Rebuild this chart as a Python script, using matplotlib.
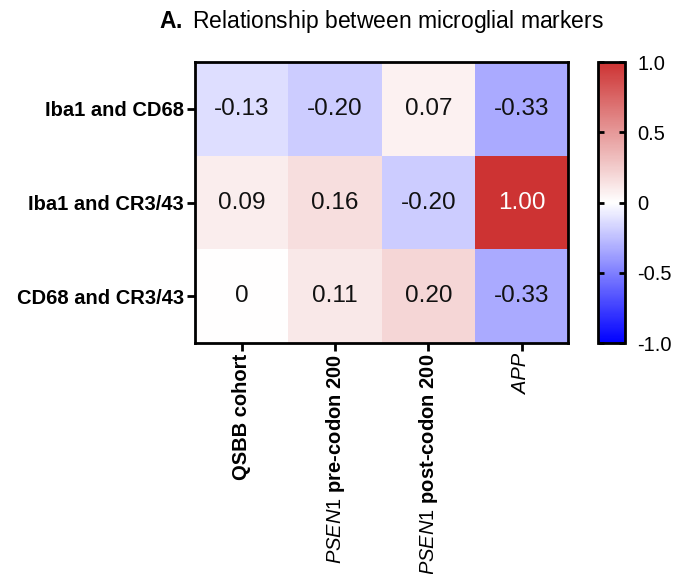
import numpy as np
import matplotlib

matplotlib.use("Agg")
import matplotlib.pyplot as plt  # noqa: E402
from matplotlib.colors import LinearSegmentedColormap  # noqa: E402

plt.rcParams["font.family"] = ["Liberation Sans", "DejaVu Sans"]
plt.rcParams["mathtext.fontset"] = "custom"
plt.rcParams["mathtext.it"] = "Liberation Sans:italic"
plt.rcParams["mathtext.rm"] = "Liberation Sans"
plt.rcParams["mathtext.bf"] = "Liberation Sans:bold"

ROW_LABELS = ["Iba1 and CD68", "Iba1 and CR3/43", "CD68 and CR3/43"]
COL_LABELS = ["QSBB cohort", r"$\mathit{PSEN1}$ pre-codon 200",
              r"$\mathit{PSEN1}$ post-codon 200", "APP"]
CORR = [
    [-0.13, -0.20, 0.07, -0.33],
    [0.09, 0.16, -0.20, 1.00],
    [0.00, 0.11, 0.20, -0.33],
]
CELL_TEXT = [
    ["-0.13", "-0.20", "0.07", "-0.33"],
    ["0.09", "0.16", "-0.20", "1.00"],
    ["0", "0.11", "0.20", "-0.33"],
]
CBAR_TICKS = [-1.0, -0.5, 0.0, 0.5, 1.0]
CBAR_LABELS = ["-1.0", "-0.5", "0", "0.5", "1.0"]

cmap = LinearSegmentedColormap.from_list(
    "bwr_soft", ["#0000ff", "#ffffff", "#cd3333"])

fig = plt.figure(figsize=(6.75, 5.74), dpi=100)
ax = fig.add_axes([0.289, 0.4024, 0.553, 0.4895])
cax = fig.add_axes([0.886, 0.4024, 0.040, 0.4895])

data = np.array(CORR)
mesh = ax.pcolormesh(data, cmap=cmap, vmin=-1, vmax=1)
ax.set_xlim(0, data.shape[1])
ax.set_ylim(data.shape[0], 0)

for i in range(data.shape[0]):
    for j in range(data.shape[1]):
        colour = "white" if data[i, j] > 0.7 else "#111111"
        ax.text(j + 0.5, i + 0.5, CELL_TEXT[i][j], ha="center", va="center",
                fontsize=17.5, color=colour)

ax.set_xticks(np.arange(data.shape[1]) + 0.5)
ax.set_yticks(np.arange(data.shape[0]) + 0.5)
ax.set_yticklabels(ROW_LABELS, fontsize=14.5, fontweight="bold")
xlabels = ax.set_xticklabels(COL_LABELS, rotation=90, fontsize=14.5,
                             fontweight="bold")
xlabels[-1].set_fontweight("normal")
xlabels[-1].set_fontstyle("italic")
ax.tick_params(axis="both", length=6, width=2, pad=2)
for sp in ax.spines.values():
    sp.set_linewidth(2)

cb = fig.colorbar(mesh, cax=cax)
cb.set_ticks(CBAR_TICKS)
cb.set_ticklabels(CBAR_LABELS)
cb.outline.set_linewidth(2)
cax.tick_params(axis="y", direction="in", left=True, right=True,
                length=4, width=2, labelsize=14.5, pad=9)

fig.text(0.565, 0.962, r"$\mathbf{A.}$ Relationship between microglial markers",
         ha="center", va="center", fontsize=16.5)

fig.savefig("out.png", dpi=100)
